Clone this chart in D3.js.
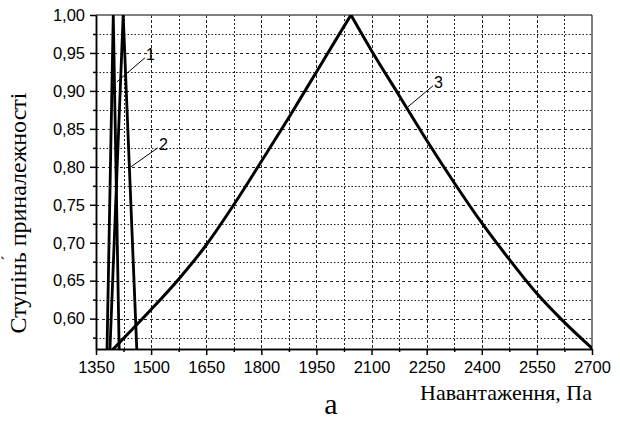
<!DOCTYPE html>
<html>
<head>
<meta charset="utf-8">
<script src="https://cdn.jsdelivr.net/npm/d3@7"></script>
<style>
    body { margin: 0; background: #fff; }
    svg { display: block; }
</style>
</head>
<body>
<svg width="620" height="424"></svg>
<script>
// Tick values
const xTicks = [1350, 1500, 1650, 1800, 1950, 2100, 2250, 2400, 2550, 2700];
const yTicks = [0.60, 0.65, 0.70, 0.75, 0.80, 0.85, 0.90, 0.95, 1.00];

// Curve 1 (narrow triangle)
const curve1X = [1380, 1397, 1413];
const curve1Y = [0.56, 1.00, 0.56];

// Curve 2
const curve2X = [1388, 1424, 1461];
const curve2Y = [0.56, 1.00, 0.56];

// Curve 3 (wide one)
const curve3X = [1397, 1443, 1500, 1575, 1650, 1725, 1800, 1875, 1950, 2025, 2044,
                 2100, 2175, 2250, 2325, 2400, 2475, 2550, 2625, 2700];
const curve3Y = [0.560, 0.583, 0.612, 0.652, 0.697, 0.750, 0.807, 0.865, 0.925, 0.985, 1.000,
                 0.953, 0.894, 0.835, 0.779, 0.726, 0.678, 0.633, 0.595, 0.561];

// Curve labels and the point where each leader touches its curve
const curveLabels = ['1', '2', '3'];
const labelAnchorX = [1407, 1445, 2199];
const labelAnchorY = [0.912, 0.800, 0.879];

const xTitle = 'Навантаження, Па';
const yTitle = 'Ступінь приналежності';
const subTitle = 'а';

class Chart {
    constructor() {
        this.svg = d3.select('svg');
        this.margin = { top: 15, right: 28, bottom: 75, left: 96 };
        this.width = 620 - this.margin.left - this.margin.right;
        this.height = 424 - this.margin.top - this.margin.bottom;
        this.comma = d => d3.format('.2f')(d).replace('.', ',');
        this.sans = '"Liberation Sans", Arial, sans-serif';
        this.serif = '"Liberation Serif", "Times New Roman", serif';
    }

    draw = () => {
        this.setScales();
        this.g = this.svg.append('g')
            .attr('transform', `translate(${this.margin.left},${this.margin.top})`);
        this.drawGrid();
        this.drawFrame();
        this.drawCurves();
        this.drawAxes();
        this.drawLabels();
    }

    setScales = () => {
        this.xScale = d3.scaleLinear().domain([1350, 2700]).range([0, this.width]);
        this.yScale = d3.scaleLinear().domain([0.56, 1.0]).range([this.height, 0]);
    }

    drawGrid = () => {
        // vertical grid every 75
        const xGrid = d3.range(1425, 2700, 75);
        this.g.append('g').selectAll('line')
            .data(xGrid)
            .join('line')
            .attr('x1', d => Math.round(this.xScale(d)) + 0.5)
            .attr('x2', d => Math.round(this.xScale(d)) + 0.5)
            .attr('y1', 0).attr('y2', this.height)
            .attr('stroke', '#222')
            .attr('stroke-width', 1)
            .attr('stroke-dasharray', d => d % 150 === 0 ? '3,2' : '2,2');

        // horizontal grid every 0.025
        const yGrid = d3.range(0.575, 0.99, 0.025);
        this.g.append('g').selectAll('line')
            .data(yGrid)
            .join('line')
            .attr('x1', 0).attr('x2', this.width)
            .attr('y1', d => Math.round(this.yScale(d)) + 0.5)
            .attr('y2', d => Math.round(this.yScale(d)) + 0.5)
            .attr('stroke', '#222')
            .attr('stroke-width', 1)
            .attr('stroke-dasharray', (d, i) => i % 2 === 1 ? '3,3' : '1.5,2');
    }

    drawFrame = () => {
        this.g.append('line')
            .attr('x1', 0).attr('x2', this.width).attr('y1', 0).attr('y2', 0)
            .attr('stroke', '#555').attr('stroke-width', 1.5);
        this.g.append('line')
            .attr('x1', this.width).attr('x2', this.width).attr('y1', 0).attr('y2', this.height)
            .attr('stroke', '#000').attr('stroke-width', 1);
    }

    drawCurves = () => {
        this.svg.append('defs').append('clipPath').attr('id', 'clip')
            .append('rect').attr('width', this.width).attr('height', this.height);

        const straight = d3.line()
            .x(d => this.xScale(d[0]))
            .y(d => this.yScale(d[1]));
        const smooth = d3.line()
            .x(d => this.xScale(d[0]))
            .y(d => this.yScale(d[1]))
            .curve(d3.curveMonotoneX);

        const clipped = this.g.append('g').attr('clip-path', 'url(#clip)');

        [d3.zip(curve1X, curve1Y), d3.zip(curve2X, curve2Y)].forEach(pts => {
            clipped.append('path')
                .attr('d', straight(pts))
                .attr('fill', 'none')
                .attr('stroke', '#000')
                .attr('stroke-width', 2.8);
        });

        // curve 3: smooth each side, keep the peak sharp
        const pts3 = d3.zip(curve3X, curve3Y);
        const peak = d3.maxIndex(curve3Y);
        [pts3.slice(0, peak + 1), pts3.slice(peak)].forEach(side => {
            clipped.append('path')
                .attr('d', smooth(side))
                .attr('fill', 'none')
                .attr('stroke', '#000')
                .attr('stroke-width', 3)
                .attr('stroke-linecap', 'round');
        });
    }

    drawAxes = () => {
        const xAxis = d3.axisBottom(this.xScale).tickValues(xTicks)
            .tickSize(6).tickSizeOuter(0).tickPadding(6).tickFormat(d3.format('d'));
        const xMinor = d3.axisBottom(this.xScale).tickValues(d3.range(1425, 2700, 150))
            .tickSize(3).tickSizeOuter(0).tickFormat('');

        const yAxis = d3.axisLeft(this.yScale).tickValues(yTicks)
            .tickSize(6).tickSizeOuter(0).tickPadding(5).tickFormat(this.comma);
        const yMinor = d3.axisLeft(this.yScale).tickValues(d3.range(0.575, 1.0, 0.05))
            .tickSize(3).tickSizeOuter(0).tickFormat('');

        [xMinor, xAxis].forEach(ax => {
            this.g.append('g')
                .attr('transform', `translate(0,${this.height})`)
                .call(ax)
                .call(s => s.selectAll('text')
                    .style('font-family', this.sans)
                    .style('font-size', '16.5px')
                    .attr('fill', '#000'));
        });
        [yMinor, yAxis].forEach(ax => {
            this.g.append('g')
                .call(ax)
                .call(s => s.selectAll('text')
                    .style('font-family', this.sans)
                    .style('font-size', '16.5px')
                    .attr('fill', '#000'));
        });
        this.g.selectAll('.domain').attr('stroke', '#000').attr('stroke-width', 1.5);
        this.g.selectAll('.tick line').attr('stroke', '#000').attr('stroke-width', 1.5);
    }

    drawLabels = () => {
        // leader lines and curve numbers
        const offsets = [[28, -24], [27, -19], [25, -21]];
        curveLabels.forEach((lab, i) => {
            const x0 = this.xScale(labelAnchorX[i]);
            const y0 = this.yScale(labelAnchorY[i]);
            const [dx, dy] = offsets[i];
            this.g.append('line')
                .attr('x1', x0).attr('y1', y0)
                .attr('x2', x0 + dx).attr('y2', y0 + dy)
                .attr('stroke', '#000').attr('stroke-width', 1);
            this.g.append('text')
                .attr('x', x0 + dx + 1).attr('y', y0 + dy + 2)
                .style('font-family', this.sans)
                .style('font-size', '16px')
                .text(lab);
        });

        this.svg.append('text')
            .attr('x', 592).attr('y', 400)
            .attr('text-anchor', 'end')
            .style('font-family', this.serif)
            .style('font-size', '22px')
            .text(xTitle);

        this.svg.append('text')
            .attr('transform', 'translate(26,213) rotate(-90)')
            .attr('text-anchor', 'middle')
            .style('font-family', this.serif)
            .style('font-size', '24px')
            .text(yTitle);

        // stray stress mark next to the y title
        this.svg.append('text')
            .attr('transform', 'translate(13,258) rotate(-90)')
            .attr('text-anchor', 'middle')
            .style('font-family', this.serif)
            .style('font-size', '16px')
            .text('´');

        this.svg.append('text')
            .attr('x', 331).attr('y', 414)
            .attr('text-anchor', 'middle')
            .style('font-family', this.serif)
            .style('font-size', '30px')
            .text(subTitle);
    }
}

new Chart().draw();
</script>
</body>
</html>
